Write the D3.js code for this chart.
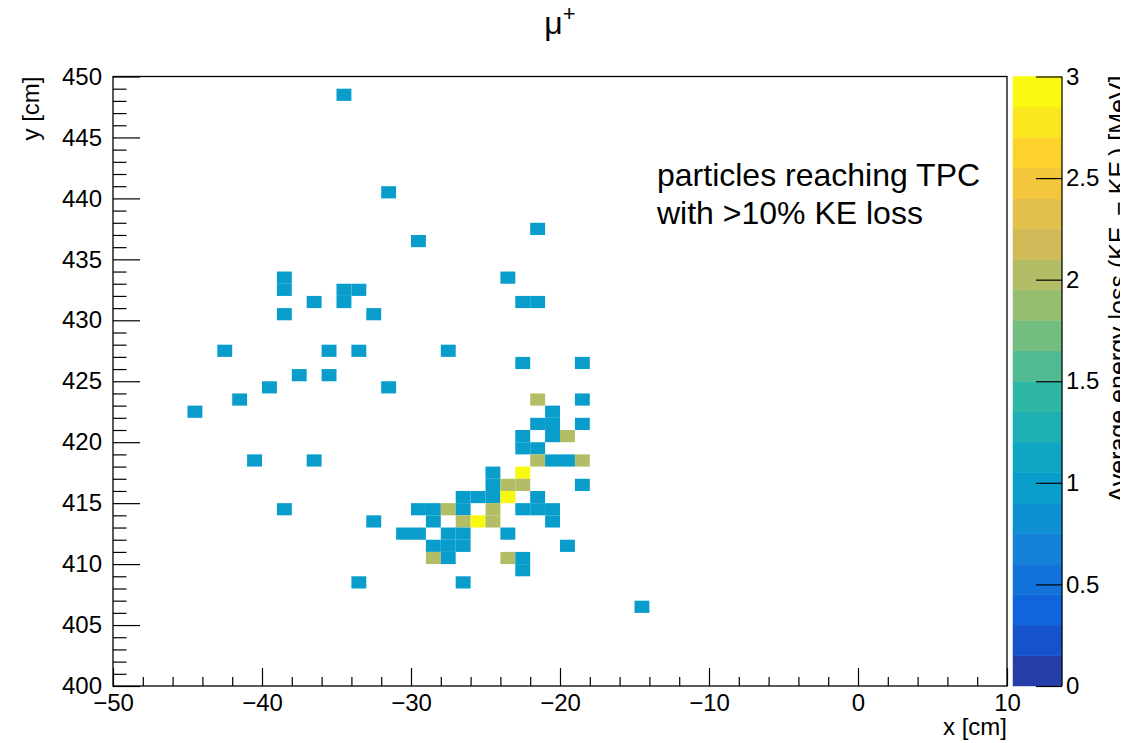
<!DOCTYPE html>
<html><head><meta charset="utf-8">
<script src="https://cdn.jsdelivr.net/npm/d3@7/dist/d3.min.js"></script>
<style>body{margin:0;background:#fff}svg{display:block}</style>
</head><body>
<svg id="chart" width="1137" height="743"></svg>
<script>
// ---- data ----
const xDomain = [-50, 10];
const yDomain = [400, 450];
const zDomain = [0, 3];
const xMajorTicks = [-50, -40, -30, -20, -10, 0, 10];
const yMajorTicks = [400, 405, 410, 415, 420, 425, 430, 435, 440, 445, 450];
const zTicks = [0, 0.5, 1, 1.5, 2, 2.5, 3];
const nContours = 20;
// histogram bins (lower edge of 1 cm bins) and bin content
const cellX = [-35,-32,-30,-22,-39,-39,-24,-35,-34,-37,-35,-23,-22,-39,-33,-43,-36,-34,-28,-23,-19,-38,-36,-40,-32,-42,-45,-41,-37,-39,-33,-34,-27,-15,
  -22,-19,-21,-22,-21,-19,-23,-21,-20,-23,-22,-22,-21,-20,-19,-25,-23,-25,-24,-23,-19,
  -27,-26,-25,-24,-22,-30,-29,-28,-27,-25,-23,-22,-21,-29,-27,-26,-25,-21,
  -31,-30,-28,-27,-24,-29,-28,-27,-20,-29,-28,-24,-23,-23];
const cellY = [448,440,436,437,433,432,433,432,432,431,431,431,431,430,430,427,427,427,427,426,426,425,425,424,424,423,422,418,418,414,413,408,408,406,
  423,423,422,421,421,421,420,420,420,419,419,418,418,418,418,417,417,416,416,416,416,
  415,415,415,415,415,414,414,414,414,414,414,414,414,413,413,413,413,413,
  412,412,412,412,412,411,411,411,411,410,410,410,410,409];
const cellZ = [1,1,1,1,1,1,1,1,1,1,1,1,1,1,1,1,1,1,1,1,1,1,1,1,1,1,1,1,1,1,1,1,1,1,
  2,1,1,1,1,1,1,1,2,1,1,2,1,1,2,1,3,1,2,2,1,
  1,1,1,3,1,1,1,2,1,2,1,1,1,1,2,3,2,1,
  1,1,1,1,1,1,1,1,1,2,1,2,1,1];
// ROOT kBird palette definition
const birdStops = [0.0000, 0.1250, 0.2500, 0.3750, 0.5000, 0.6250, 0.7500, 0.8750, 1.0000];
const birdRed   = [0.2082, 0.0592, 0.0780, 0.0232, 0.1802, 0.5301, 0.8186, 0.9956, 0.9764];
const birdGreen = [0.1664, 0.3599, 0.5041, 0.6419, 0.7178, 0.7492, 0.7328, 0.7862, 0.9832];
const birdBlue  = [0.5293, 0.8684, 0.8385, 0.7914, 0.6425, 0.4662, 0.3499, 0.1968, 0.0539];

// ---- palette (ROOT gradient table, 255 colours) ----
const NCOL = 255;
const palette = [];
for (let g = 1; g < birdStops.length; g++) {
  const n = Math.floor(NCOL * birdStops[g]) - Math.floor(NCOL * birdStops[g - 1]);
  for (let c = 0; c < n; c++) {
    const f = c / n;
    palette.push(d3.rgb(
      255 * (birdRed[g - 1] + f * (birdRed[g] - birdRed[g - 1])),
      255 * (birdGreen[g - 1] + f * (birdGreen[g] - birdGreen[g - 1])),
      255 * (birdBlue[g - 1] + f * (birdBlue[g] - birdBlue[g - 1]))
    ).formatHex());
  }
}
while (palette.length < NCOL) palette.push(palette[palette.length - 1]);
const bandColor = i => palette[Math.min(NCOL - 1, Math.floor((i + 0.99) * NCOL / nContours))];
const zBand = d3.scaleQuantize().domain(zDomain).range(d3.range(nContours));
const colorOf = z => bandColor(z >= zDomain[1] ? nContours - 1 : zBand(z));

// ---- layout ----
const svg = d3.select("#chart");
const FONT = "'Liberation Sans', Arial, Helvetica, sans-serif";
svg.append("rect").attr("width", 1137).attr("height", 743).attr("fill", "#fff");
const L = 113, R = 1007, T = 76.5, B = 686;
const x = d3.scaleLinear().domain(xDomain).range([L, R]);
const y = d3.scaleLinear().domain(yDomain).range([B, T]);

// cells
const cells = d3.range(cellX.length).map(i => ({x: cellX[i], y: cellY[i], z: cellZ[i]}));
svg.append("g").selectAll("rect").data(cells).join("rect")
  .attr("x", d => x(d.x)).attr("y", d => y(d.y + 1))
  .attr("width", d => x(d.x + 1) - x(d.x)).attr("height", d => y(d.y) - y(d.y + 1))
  .attr("fill", d => colorOf(d.z));

// frame
svg.append("rect").attr("x", L).attr("y", T).attr("width", R - L).attr("height", B - T)
  .attr("fill", "none").attr("stroke", "#000").attr("stroke-width", 1.3);

const fmt = d3.format("~g");
function styleAxis(g, size) {
  g.select(".domain").remove();
  g.selectAll("line").attr("stroke", "#000").attr("stroke-width", 1.2);
  g.selectAll("text").attr("font-family", FONT).attr("font-size", size).attr("fill", "#000");
}
// x axis
const xMinor = d3.range(xDomain[0], xDomain[1] + 0.001, 2).filter(v => !xMajorTicks.includes(v));
svg.append("g").attr("transform", `translate(0,${B})`)
  .call(d3.axisBottom(x).tickValues(xMinor).tickSize(-9).tickFormat(""))
  .call(g => styleAxis(g, 24));
svg.append("g").attr("transform", `translate(0,${B})`)
  .call(d3.axisBottom(x).tickValues(xMajorTicks).tickSize(-18).tickPadding(8).tickFormat(fmt))
  .call(g => styleAxis(g, 24));
// y axis
const yMinor = d3.range(yDomain[0], yDomain[1] + 0.001, 1).filter(v => !yMajorTicks.includes(v));
svg.append("g").attr("transform", `translate(${L},0)`)
  .call(d3.axisLeft(y).tickValues(yMinor).tickSize(-13.5).tickFormat(""))
  .call(g => styleAxis(g, 24));
svg.append("g").attr("transform", `translate(${L},0)`)
  .call(d3.axisLeft(y).tickValues(yMajorTicks).tickSize(-27).tickPadding(11).tickFormat(fmt))
  .call(g => styleAxis(g, 24));

// axis titles
svg.append("text").attr("x", R).attr("y", 735).attr("text-anchor", "end")
  .attr("font-family", FONT).attr("font-size", 24).text("x [cm]");
svg.append("text").attr("transform", `translate(39,${T}) rotate(-90)`).attr("text-anchor", "end")
  .attr("font-family", FONT).attr("font-size", 24).text("y [cm]");

// colour bar
const CL = 1013, CR = 1062;
const z = d3.scaleLinear().domain(zDomain).range([B, T]);
const bands = d3.range(nContours);
const step = (zDomain[1] - zDomain[0]) / nContours;
svg.append("g").selectAll("rect").data(bands).join("rect")
  .attr("x", CL).attr("width", CR - CL)
  .attr("y", i => z(zDomain[0] + (i + 1) * step)).attr("height", i => z(zDomain[0] + i * step) - z(zDomain[0] + (i + 1) * step))
  .attr("fill", i => bandColor(i)).attr("stroke", i => bandColor(i)).attr("stroke-width", 0.5);
svg.append("line").attr("x1", CR).attr("x2", CR).attr("y1", T).attr("y2", B).attr("stroke", "#000").attr("stroke-width", 1.2);
svg.append("g").attr("transform", `translate(${CR},0)`)
  .call(d3.axisRight(z).tickValues(zTicks).tickSize(-26).tickPadding(4).tickFormat(fmt))
  .call(g => styleAxis(g, 24));

// colour bar title (clipped at canvas edge, as in the original picture)
const clip = svg.append("clipPath").attr("id", "edge");
clip.append("rect").attr("x", 0).attr("y", 0).attr("width", 1120).attr("height", 743);
const ctg = svg.append("g").attr("clip-path", "url(#edge)");
const ct = ctg.append("text")
  .attr("transform", `translate(1126.5,${T - 1}) rotate(-90)`).attr("text-anchor", "end")
  .attr("font-family", FONT).attr("font-size", 25);
ct.append("tspan").text("Average energy loss (KE");
ct.append("tspan").attr("font-size", 17).attr("dy", 6).text("i");
ct.append("tspan").attr("dy", -6).text(" \u2212 KE");
ct.append("tspan").attr("font-size", 17).attr("dy", 6).text("f");
ct.append("tspan").attr("dy", -6).text(") [MeV]");

// title
const title = svg.append("text").attr("x", 560).attr("y", 34).attr("text-anchor", "middle")
  .attr("font-family", FONT).attr("font-size", 32);
title.append("tspan").text("\u03bc");
title.append("tspan").attr("font-size", 22).attr("dy", -13).text("+");

// annotation
const note = svg.append("text").attr("font-family", FONT).attr("font-size", 32);
note.append("tspan").attr("x", 657).attr("y", 186).text("particles reaching TPC");
note.append("tspan").attr("x", 657).attr("y", 224).text("with >10% KE loss");
</script>
</body></html>
